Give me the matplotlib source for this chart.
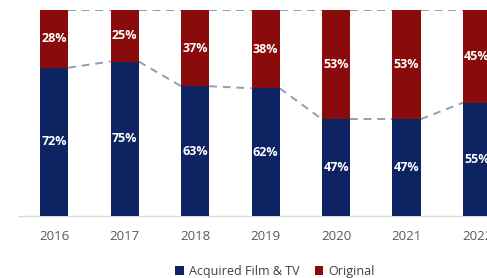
import numpy as np
import matplotlib.pyplot as plt

years = ['2016', '2017', '2018', '2019', '2020', '2021', '2022']
acquired = [72, 75, 63, 62, 47, 47, 55]
original = [28, 25, 37, 38, 53, 53, 45]

NAVY = '#0e2361'
RED = '#8a0b0b'
DASH = '#949cae'

fig = plt.figure(figsize=(4.87, 2.78), dpi=100)
ax = fig.add_axes([19 / 487, 62 / 278, 1 - 19 / 487, 206 / 278])

x = np.arange(len(years))
width = 0.4
ax.bar(x, acquired, width, color=NAVY, label='Acquired Film & TV', zorder=3)
ax.bar(x, original, width, bottom=acquired, color=RED, label='Original', zorder=3)

# dashed connectors between bars
for i in range(len(years) - 1):
    x0 = x[i] + width / 2
    x1 = x[i + 1] - width / 2
    ax.plot([x0, x1], [acquired[i], acquired[i + 1]], ls=(0, (4, 3)),
            color=DASH, lw=1.4, zorder=2)
    ax.plot([x0, x1], [100, 100], ls=(0, (4, 3)), color=DASH, lw=1.4, zorder=2)

for i in range(len(years)):
    ax.text(x[i], acquired[i] / 2, f'{acquired[i]}%', ha='center', va='center',
            color='white', fontsize=9, fontweight='bold', family='Open Sans', zorder=4)
    ax.text(x[i], acquired[i] + original[i] / 2, f'{original[i]}%', ha='center',
            va='center', color='white', fontsize=9, fontweight='bold',
            family='Open Sans', zorder=4)

ax.set_xlim(-0.5, (487 - 54) / 70.5)
ax.set_ylim(0, 100)
ax.set_xticks(x)
ax.set_xticklabels(years, color='#595959', fontsize=9.5, family='Open Sans')
ax.tick_params(axis='x', length=0, pad=10)
ax.set_yticks([])
for s in ['top', 'right', 'left']:
    ax.spines[s].set_visible(False)
ax.spines['bottom'].set_color('#d9d9d9')
ax.spines['bottom'].set_linewidth(1)

handles, labels = ax.get_legend_handles_labels()
fig.legend(handles, labels, loc='center', bbox_to_anchor=(275 / 487, 1 - 271 / 278),
           ncol=2, frameon=False, handlelength=0.7, handleheight=0.7,
           handletextpad=0.4, columnspacing=1.2,
           prop={'family': 'Open Sans', 'size': 9}, labelcolor='#404040')

plt.savefig('out.png', dpi=100)
